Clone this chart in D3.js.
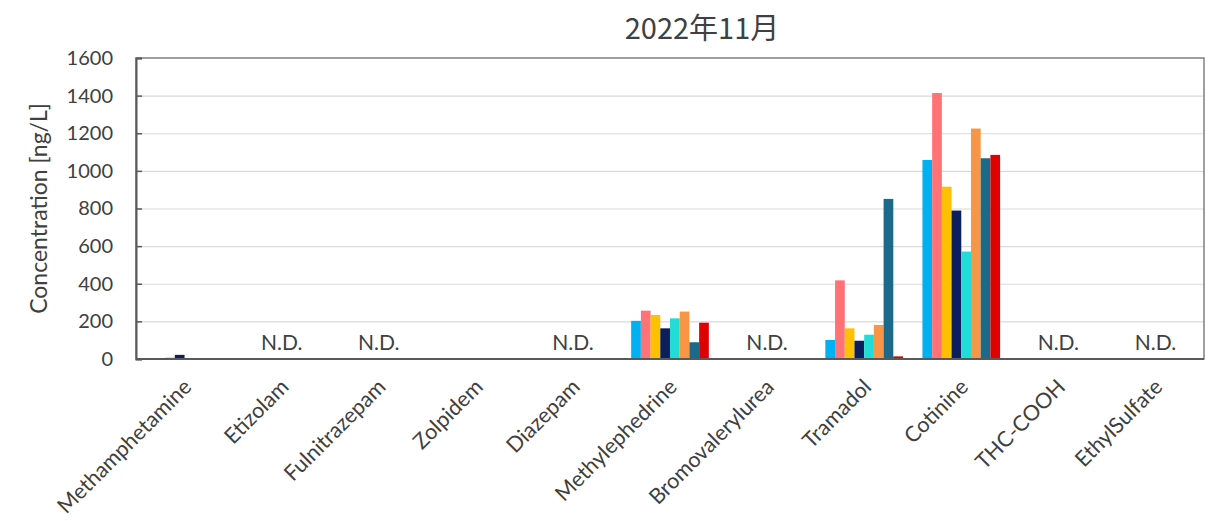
<!DOCTYPE html>
<html>
<head>
<meta charset="utf-8">
<script src="https://cdn.jsdelivr.net/npm/d3@7"></script>
<style>
  body { margin: 0; background: #fff; }
  text { font-family: Lato, "Noto Sans", sans-serif; fill: #404040; }
  .grid line { stroke: #d9d9d9; stroke-width: 1.2; }
</style>
</head>
<body>
<svg id="chart" width="1210" height="521"></svg>
<script>
// categories (x axis)
var categories = ["Methamphetamine","Etizolam","Fulnitrazepam","Zolpidem","Diazepam",
                  "Methylephedrine","Bromovalerylurea","Tramadol","Cotinine","THC-COOH","EthylSulfate"];
// categories marked not detected
var ndFlags = [false,true,true,false,true,false,true,false,false,true,true];

// one array per sampling site, values in ng/L
var site1 = [0, 0,0,0,0, 203,0, 101,1058,0,0];
var site2 = [0, 0,0,0,0, 257,0, 418,1414,0,0];
var site3 = [8, 0,0,0,0, 234,0, 163, 916,0,0];
var site4 = [22,0,0,0,0, 163,0,  97, 789,0,0];
var site5 = [0, 0,0,0,0, 216,0, 129, 571,0,0];
var site6 = [0, 0,0,0,0, 252,0, 181,1225,0,0];
var site7 = [0, 0,0,0,0,  89,0, 851,1067,0,0];
var site8 = [0, 0,0,0,0, 193,0,  14,1085,0,0];
var seriesNames = ["S1","S2","S3","S4","S5","S6","S7","S8"];
var seriesValues = [site1,site2,site3,site4,site5,site6,site7,site8];
var seriesColors = ["#00b0f0","#ff7276","#ffc000","#0a1f5c","#22dcd8","#f79646","#1b6a8a","#e00000"];
var yTicks = [0,200,400,600,800,1000,1200,1400,1600];

var svg = d3.select("#chart");
var margin = {left:136, right:6, top:58, bottom:162};
var W = 1210, H = 521;
var pw = W - margin.left - margin.right, ph = H - margin.top - margin.bottom;

var g = svg.append("g").attr("transform","translate("+margin.left+","+margin.top+")");

var x0 = d3.scaleBand().domain(categories).range([0,pw]).paddingInner(0.2).paddingOuter(0.1);
var xc = d3.scaleBand().domain(categories).range([0,pw]);
var x1 = d3.scaleBand().domain(seriesNames).range([0,x0.bandwidth()]);
var y = d3.scaleLinear().domain([0,1600]).range([ph,0]);

// gridlines
g.append("g").attr("class","grid")
  .call(d3.axisLeft(y).tickValues(yTicks.slice(1,-1)).tickSize(-pw).tickFormat(""))
  .call(function(s){ s.select(".domain").remove(); });

// bars
var table = categories.map(function(c,i){
  return {cat:c, vals:seriesNames.map(function(n,j){ return {name:n, v:seriesValues[j][i], color:seriesColors[j]}; })};
});
var groups = g.selectAll(".grp").data(table).enter().append("g")
  .attr("transform",function(d){ return "translate("+x0(d.cat)+",0)"; });
groups.selectAll("rect").data(function(d){ return d.vals.filter(function(e){ return e.v>0; }); })
  .enter().append("rect")
  .attr("x",function(d){ return x1(d.name); })
  .attr("width",x1.bandwidth())
  .attr("y",function(d){ return y(d.v); })
  .attr("height",function(d){ return ph - y(d.v); })
  .attr("fill",function(d){ return d.color; });

// frame
g.append("rect").attr("width",pw).attr("height",ph)
  .attr("fill","none").attr("stroke","#7f7f7f").attr("stroke-width",1.5);
g.append("line").attr("x1",0).attr("x2",pw).attr("y1",ph).attr("y2",ph)
  .attr("stroke","#595959").attr("stroke-width",2);

// y axis
var yAxis = g.append("g").call(d3.axisLeft(y).tickValues(yTicks).tickSize(-6).tickPadding(23).tickFormat(d3.format("d")));
yAxis.select(".domain").attr("stroke","#595959").attr("stroke-width",2);
yAxis.selectAll(".tick line").attr("stroke","#595959").attr("stroke-width",1.5);
yAxis.selectAll("text").style("font-size","20px").attr("fill","#404040");

// N.D. labels
g.selectAll(".nd").data(categories.filter(function(c,i){ return ndFlags[i]; }))
  .enter().append("text").attr("class","nd")
  .attr("x",function(d){ return xc(d)+xc.bandwidth()/2; })
  .attr("y",y(0)-9)
  .attr("text-anchor","middle")
  .style("font-size","21px")
  .text("N.D.");

// x labels
g.selectAll(".xl").data(categories).enter().append("text").attr("class","xl")
  .attr("transform",function(d){ return "translate("+(xc(d)+xc.bandwidth()/2+3)+","+(ph+24)+") rotate(-45)"; })
  .attr("text-anchor","end")
  .attr("dy","0.35em")
  .style("font-size","21.5px")
  .text(function(d){ return d; });

// y title
svg.append("text")
  .attr("transform","translate(47,"+(margin.top+ph/2)+") rotate(-90)")
  .attr("text-anchor","middle")
  .style("font-size","23px")
  .text("Concentration [ng/L]");

// title
svg.append("text").attr("x",702).attr("y",39).attr("text-anchor","middle")
  .style("font-family","'Noto Sans CJK JP', sans-serif")
  .style("font-size","29px")
  .text("2022年11月");
</script>
</body>
</html>
